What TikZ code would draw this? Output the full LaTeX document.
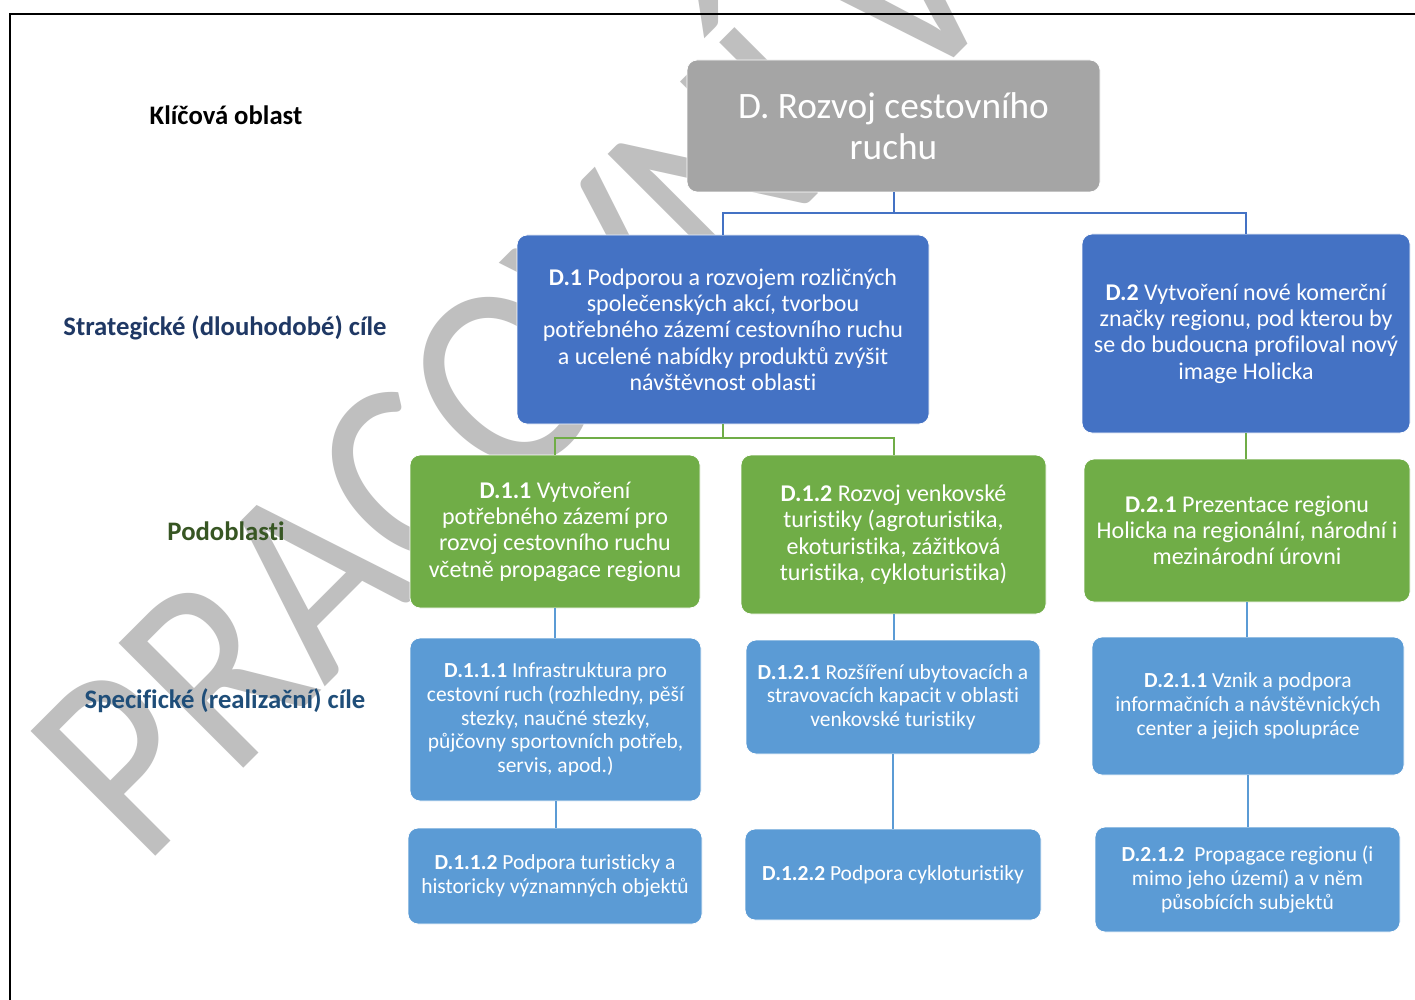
\documentclass[tikz,border=0pt]{standalone}
\usepackage{fontspec}
\setmainfont{Carlito}[Ligatures=NoCommon]
\definecolor{cgray}{HTML}{A5A5A5}
\definecolor{cblue}{HTML}{4472C4}
\definecolor{cgreen}{HTML}{70AD47}
\definecolor{clight}{HTML}{5B9BD5}
\definecolor{cwm}{HTML}{BFBFBF}
\definecolor{navy}{HTML}{1F3864}
\definecolor{navyb}{HTML}{1F4E79}
\definecolor{dgreen}{HTML}{375623}
\begin{document}
\begin{tikzpicture}[x=1pt,y=-1pt,
  box/.style={rounded corners=10pt, draw=white, line width=0.8pt, align=center, text=white, inner sep=0pt},
  topbox/.style={box, fill=cgray, font=\fontsize{37.3}{41}\selectfont},
  stratbox/.style={box, fill=cblue, font=\fontsize{24}{26.3}\selectfont},
  subbox/.style={box, fill=cgreen, font=\fontsize{24}{26.3}\selectfont},
  specbox/.style={box, fill=clight, font=\fontsize{21.5}{23.7}\selectfont},
  lvl/.style={anchor=base, font=\fontsize{26.7}{30}\selectfont\bfseries},
  conblue/.style={draw=cblue, line width=2pt},
  congreen/.style={draw=cgreen, line width=2pt},
  conlight/.style={draw=clight, line width=2pt},
  wm/.style={text=cwm, inner sep=0pt, font=\fontsize{275}{275}\selectfont}]
\useasboundingbox (0,0) rectangle (1415,1000);
\fill[white] (0,0) rectangle (1415,1000);
\begin{scope}
\clip (0,0) rectangle (1415,1000);
\node[wm, rotate=45, anchor=base west] (wmark) at (143,869) {\scalebox{0.88}[1]{PRACOVNÍ VERZE}};
\end{scope}
% frame
\coordinate (fa) at (10,1000);
\coordinate (fb) at (10,14);
\coordinate (fc) at (1415,14);
\draw[line width=2.5pt] (fa) -- (fb) -- (fc);
% level labels
\node[lvl, text=black] (lk) at (226,125) {Klíčová oblast};
\node[lvl, text=navy] (ls) at (225,335) {Strategické (dlouhodobé) cíle};
\node[lvl, text=dgreen] (lp) at (226,540) {Podoblasti};
\node[lvl, text=navyb] (lr) at (225,708) {Specifické (realizační) cíle};
% boxes
\node[topbox, minimum width=413pt, minimum height=132pt] (top) at (893.5,126) {D. Rozvoj cestovního\\ruchu};
\node[stratbox, minimum width=412pt, minimum height=189pt] (d1) at (723,329.5) {\textbf{D.1} Podporou a rozvojem rozličných\\společenských akcí, tvorbou\\potřebného zázemí cestovního ruchu\\a ucelené nabídky produktů zvýšit\\návštěvnost oblasti};
\node[stratbox, minimum width=328pt, minimum height=199pt] (d2) at (1246,333.5) {\textbf{D.2} Vytvoření nové komerční\\značky regionu, pod kterou by\\se do budoucna profiloval nový\\image Holicka};
\node[subbox, minimum width=290pt, minimum height=153pt] (d11) at (555,531.5) {\textbf{D.1.1} Vytvoření\\potřebného zázemí pro\\rozvoj cestovního ruchu\\včetně propagace regionu};
\node[subbox, minimum width=305pt, minimum height=159pt] (d12) at (893.5,534.5) {\textbf{D.1.2} Rozvoj venkovské\\turistiky (agroturistika,\\ekoturistika, zážitková\\turistika, cykloturistika)};
\node[subbox, minimum width=326pt, minimum height=143pt] (d21) at (1247,530.5) {\textbf{D.2.1} Prezentace regionu\\Holicka na regionální, národní i\\mezinárodní úrovni};
\node[specbox, minimum width=291pt, minimum height=163pt] (d111) at (555.5,719.5) {\textbf{D.1.1.1} Infrastruktura pro\\cestovní ruch (rozhledny, pěší\\stezky, naučné stezky,\\půjčovny sportovních potřeb,\\servis, apod.)};
\node[specbox, minimum width=294pt, minimum height=96pt] (d112) at (555,876) {\textbf{D.1.1.2} Podpora turisticky a\\historicky významných objektů};
\node[specbox, minimum width=294pt, minimum height=114pt] (d121) at (893,697) {\textbf{D.1.2.1} Rozšíření ubytovacích a\\stravovacích kapacit v oblasti\\venkovské turistiky};
\node[specbox, minimum width=296pt, minimum height=91pt] (d122) at (893,874.5) {\textbf{D.1.2.2} Podpora cykloturistiky};
\node[specbox, minimum width=312pt, minimum height=138pt] (d211) at (1248,706) {\textbf{D.2.1.1} Vznik a podpora\\informačních a návštěvnických\\center a jejich spolupráce};
\node[specbox, minimum width=305pt, minimum height=105pt] (d212) at (1247.5,879.5) {\textbf{D.2.1.2}\ \ Propagace regionu (i\\mimo jeho území) a v něm\\působících subjektů};
% connectors
\coordinate (j1) at (893.5,213);
\draw[conblue] (top.south) -- (j1) -| (d1.north);
\draw[conblue] (j1) -| (d2.north);
\coordinate (j2) at (723,438);
\draw[congreen] (d1.south) -- (j2) -| (d11.north);
\draw[congreen] (j2) -| (d12.north);
\draw[congreen] (d2.south) -- (d2.south |- d21.north);
\draw[conlight] (d11.south) -- (d11.south |- d111.north);
\draw[conlight] (d111.south) -- (d111.south |- d112.north);
\draw[conlight] (d12.south) -- (d12.south |- d121.north);
\draw[conlight] (d121.south) -- (d121.south |- d122.north);
\draw[conlight] (d21.south) -- (d21.south |- d211.north);
\draw[conlight] (d211.south) -- (d211.south |- d212.north);
\end{tikzpicture}
\end{document}
